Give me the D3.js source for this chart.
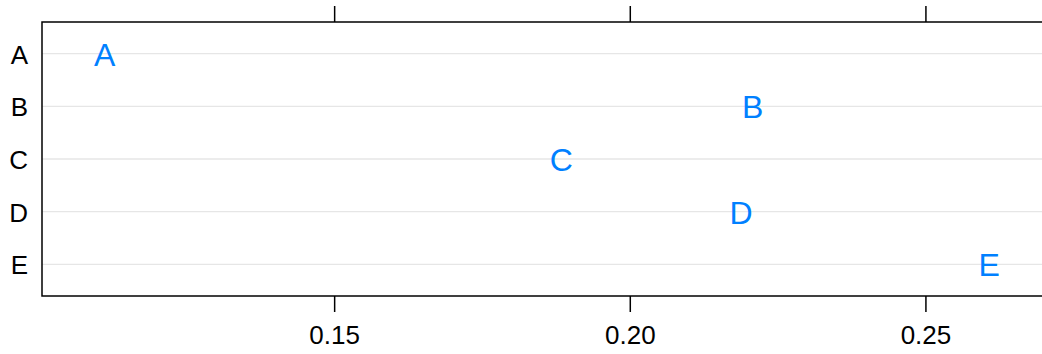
<!DOCTYPE html>
<html>
<head>
<meta charset="utf-8">
<script src="https://cdn.jsdelivr.net/npm/d3@7"></script>
<style>
  html, body { margin: 0; padding: 0; background: #fff; }
  svg { display: block; }
  text { font-family: "Liberation Sans", Arial, Helvetica, sans-serif; }
</style>
</head>
<body>
<svg id="chart" width="1042" height="354"></svg>
<script>
const categories = ["A", "B", "C", "D", "E"];
const values = [0.1112, 0.2208, 0.1884, 0.2188, 0.2608];
const tickValues = [0.15, 0.20, 0.25];
const tickLabels = ["0.15", "0.20", "0.25"];

(function () {
const W = 1042, H = 354;
const pLeft = 42, pTop = 22, pBottom = 296, pRight = 1060;

const svg = d3.select("#chart");

const x = d3.scaleLinear().domain([0.10059, 0.27276]).range([pLeft, pRight]);
const y = d3.scaleLinear().domain([0.4, 5.6]).range([pTop, pBottom]);
const yPos = (i) => y(i + 1);

// grid lines
svg.append("g").selectAll("line")
  .data(categories)
  .join("line")
  .attr("x1", pLeft).attr("x2", pRight)
  .attr("y1", (d, i) => yPos(i)).attr("y2", (d, i) => yPos(i))
  .attr("stroke", "#e6e6e6").attr("stroke-width", 1.3);

// frame
svg.append("rect")
  .attr("x", pLeft).attr("y", pTop)
  .attr("width", pRight - pLeft).attr("height", pBottom - pTop)
  .attr("fill", "none").attr("stroke", "#000").attr("stroke-width", 1.5);

// bottom axis
const axB = d3.axisBottom(x).tickValues(tickValues)
  .tickFormat((d, i) => tickLabels[i]).tickSize(16).tickSizeOuter(0).tickPadding(14);
const gB = svg.append("g").attr("transform", `translate(0,${pBottom})`).call(axB);
gB.select(".domain").remove();
gB.selectAll(".tick line").attr("stroke", "#000").attr("stroke-width", 1.5);
gB.selectAll(".tick text").attr("font-size", 26).attr("fill", "#000")
  .attr("font-family", "'Liberation Sans', Arial, Helvetica, sans-serif");

// top axis (ticks only)
const axT = d3.axisTop(x).tickValues(tickValues).tickFormat("").tickSize(16).tickSizeOuter(0);
const gT = svg.append("g").attr("transform", `translate(0,${pTop})`).call(axT);
gT.select(".domain").remove();
gT.selectAll(".tick line").attr("stroke", "#000").attr("stroke-width", 1.5);

// left category labels
svg.append("g").selectAll("text")
  .data(categories)
  .join("text")
  .attr("x", 28)
  .attr("y", (d, i) => yPos(i) + 10)
  .attr("text-anchor", "end")
  .attr("font-size", 26)
  .attr("fill", "#000")
  .text(d => d);

// data labels
svg.append("g").selectAll("text")
  .data(categories)
  .join("text")
  .attr("x", (d, i) => x(values[i]))
  .attr("y", (d, i) => yPos(i) + 12)
  .attr("text-anchor", "middle")
  .attr("font-size", 32)
  .attr("fill", "#0080ff")
  .text(d => d);
})();
</script>
</body>
</html>
